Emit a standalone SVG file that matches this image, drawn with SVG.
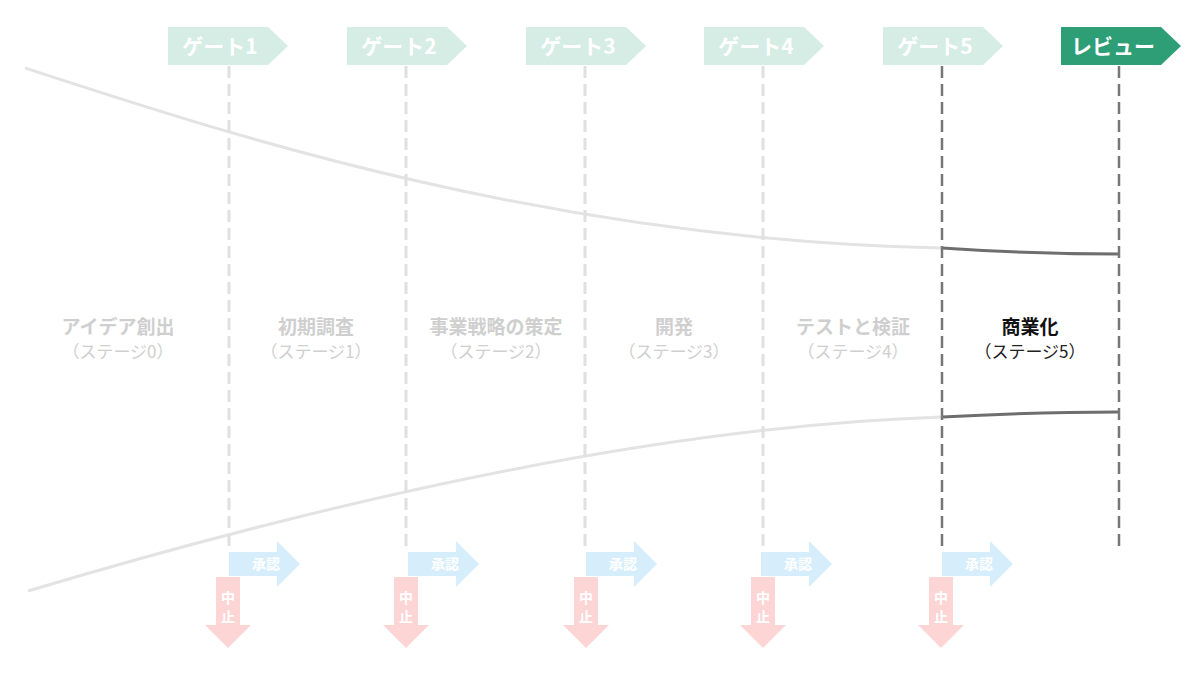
<svg xmlns="http://www.w3.org/2000/svg" width="1200" height="675" viewBox="0 0 1200 675">
<style>
text{font-family:"Noto Sans CJK JP","Noto Sans",sans-serif;text-anchor:middle}
.gt{fill:#fff;font-weight:bold;font-size:21px}
.gate{fill:#d5ede5}
.lt{stroke:#e0e0e0;stroke-width:3;stroke-dasharray:12,6;fill:none}
.dk{stroke:#777;stroke-width:2.5;stroke-dasharray:12,6;fill:none}
.st{fill:#cfcfcf;font-weight:bold;font-size:19px}
.ss{fill:#cfcfcf;font-size:17px}
.ok{fill:#d6eefc}
.ng{fill:#fdd5d5}
.at{fill:#fff;font-size:14px;font-weight:bold}
</style>
<defs>
<path id="g" d="M0,0H100L120,19L100,38H0Z"/>
<path id="ap" d="M0,0H48V-11L71,12L48,35V24H0Z"/>
<path id="st" d="M-12,0H12V48H23L0,71L-23,48H-12Z"/>
</defs>
<g id="connectors">
<path d="M25,68 C230,135 550,240 942,248" stroke="#e3e3e3" stroke-width="3" fill="none"/>
<path d="M942,248 C1000,252 1060,254 1119,254" stroke="#6e6e6e" stroke-width="3" fill="none"/>
<path d="M28,591 C400,480 700,425 942,417" stroke="#e3e3e3" stroke-width="3" fill="none"/>
<path d="M942,417 C1000,414 1060,412 1119,412" stroke="#6e6e6e" stroke-width="3" fill="none"/>
<line class="lt" x1="229" y1="66" x2="229" y2="550"/>
<line class="lt" x1="406" y1="66" x2="406" y2="550"/>
<line class="lt" x1="585" y1="66" x2="585" y2="550"/>
<line class="lt" x1="763" y1="66" x2="763" y2="550"/>
<line class="dk" x1="942" y1="66" x2="942" y2="550"/>
<line class="dk" x1="1119" y1="66" x2="1119" y2="552"/>
</g>
<g id="gate1"><use href="#g" x="168" y="27" class="gate"/><text class="gt" x="220" y="54">ゲート1</text></g>
<g id="gate2"><use href="#g" x="347" y="27" class="gate"/><text class="gt" x="399" y="54">ゲート2</text></g>
<g id="gate3"><use href="#g" x="526" y="27" class="gate"/><text class="gt" x="578" y="54">ゲート3</text></g>
<g id="gate4"><use href="#g" x="704" y="27" class="gate"/><text class="gt" x="756" y="54">ゲート4</text></g>
<g id="gate5"><use href="#g" x="883" y="27" class="gate"/><text class="gt" x="935" y="54">ゲート5</text></g>
<g id="review"><use href="#g" x="1061" y="27" fill="#2e9e77"/><text class="gt" x="1113" y="54">レビュー</text></g>
<g id="stage0"><text class="st" x="118" y="334">アイデア創出</text><text class="ss" x="118" y="358">（ステージ0）</text></g>
<g id="stage1"><text class="st" x="316" y="334">初期調査</text><text class="ss" x="316" y="358">（ステージ1）</text></g>
<g id="stage2"><text class="st" x="496" y="334">事業戦略の策定</text><text class="ss" x="496" y="358">（ステージ2）</text></g>
<g id="stage3"><text class="st" x="674" y="334">開発</text><text class="ss" x="674" y="358">（ステージ3）</text></g>
<g id="stage4"><text class="st" x="853" y="334">テストと検証</text><text class="ss" x="853" y="358">（ステージ4）</text></g>
<g id="stage5"><text class="st" x="1030" y="334" style="fill:#111">商業化</text><text class="ss" x="1030" y="358" style="fill:#222">（ステージ5）</text></g>
<g id="approve1"><use href="#ap" x="229" y="552" class="ok"/><text class="at" x="266" y="569">承認</text></g>
<g id="approve2"><use href="#ap" x="408" y="552" class="ok"/><text class="at" x="445" y="569">承認</text></g>
<g id="approve3"><use href="#ap" x="586" y="552" class="ok"/><text class="at" x="623" y="569">承認</text></g>
<g id="approve4"><use href="#ap" x="761" y="552" class="ok"/><text class="at" x="798" y="569">承認</text></g>
<g id="approve5"><use href="#ap" x="942" y="552" class="ok"/><text class="at" x="979" y="569">承認</text></g>
<g id="stop1"><use href="#st" x="228" y="577" class="ng"/><text class="at" x="228" y="603">中</text><text class="at" x="228" y="622">止</text></g>
<g id="stop2"><use href="#st" x="406" y="577" class="ng"/><text class="at" x="406" y="603">中</text><text class="at" x="406" y="622">止</text></g>
<g id="stop3"><use href="#st" x="586" y="577" class="ng"/><text class="at" x="586" y="603">中</text><text class="at" x="586" y="622">止</text></g>
<g id="stop4"><use href="#st" x="763" y="577" class="ng"/><text class="at" x="763" y="603">中</text><text class="at" x="763" y="622">止</text></g>
<g id="stop5"><use href="#st" x="941" y="577" class="ng"/><text class="at" x="941" y="603">中</text><text class="at" x="941" y="622">止</text></g>
</svg>
